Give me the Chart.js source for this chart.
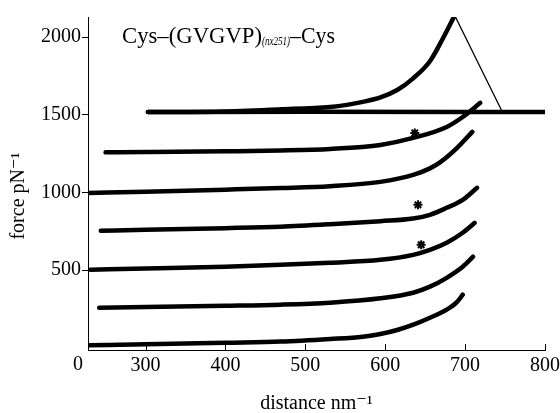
<!DOCTYPE html>
<html>
<head>
<meta charset="utf-8">
<script src="https://cdn.jsdelivr.net/npm/chart.js@4"></script>
<style>
  html, body { margin: 0; padding: 0; background: #fff; }
  #wrap { width: 560px; height: 413px; }
</style>
</head>
<body>
<div id="wrap"><canvas id="forceChart"></canvas></div>
<script>
// tick labels
const xTicks = [300, 400, 500, 600, 700, 800];
const yTicks = [500, 1000, 1500, 2000];

// force-extension traces, [distance nm, force pN]
const trace0 = [[229, 15], [300, 22], [400, 32], [469, 39], [531, 56], [572, 71], [594, 88], [615, 114], [636, 150], [656, 193], [677, 245], [690, 295], [697, 341]];
const trace1 = [[242, 257], [300, 262], [400, 270], [469, 277], [531, 290], [594, 318], [635, 354], [656, 393], [677, 450], [697, 521], [710, 586]];
const trace2 = [[231, 502], [300, 510], [400, 522], [469, 534], [531, 547], [594, 566], [635, 598], [656, 630], [677, 676], [697, 740], [712, 804]];
const trace3 = [[244, 753], [300, 760], [400, 770], [469, 779], [531, 795], [594, 815], [635, 832], [656, 856], [677, 901], [697, 952], [715, 1030]];
const trace4 = [[229, 997], [300, 1005], [400, 1018], [469, 1028], [531, 1040], [594, 1068], [635, 1113], [656, 1155], [669, 1195], [690, 1287], [709, 1390]];
const trace5 = [[250, 1258], [300, 1260], [400, 1265], [469, 1270], [531, 1280], [594, 1306], [635, 1351], [677, 1422], [697, 1486], [719, 1577]];
const approach = [[303, 1518], [500, 1520], [800, 1518]];
const retract = [[303, 1518], [400, 1522], [469, 1535], [531, 1551], [552, 1564], [572, 1583], [594, 1612], [615, 1660], [635, 1735], [656, 1845], [672, 1990], [687, 2140]];
const rupture = [[687, 2140], [746, 1525]];
const stars = [[637, 1383], [641, 920], [645, 663]];

const serif = "'Liberation Serif', 'DejaVu Serif', serif";
Chart.defaults.font.family = serif;
Chart.defaults.color = '#000';

function lineSet(points, width) {
    return {
        data: points.map(p => ({ x: p[0], y: p[1] })),
        showLine: true,
        borderColor: '#000',
        backgroundColor: '#000',
        borderWidth: width,
        pointRadius: 0,
        cubicInterpolationMode: 'monotone',
        borderCapStyle: 'round',
        fill: false
    };
}

// title, y label, the lone "0" at the corner and inward x ticks
const extrasPlugin = {
    id: 'extras',
    afterDraw(chart) {
        const ctx = chart.ctx;
        const x = chart.scales.x;
        const area = chart.chartArea;
        ctx.save();
        ctx.strokeStyle = '#000';
        ctx.lineWidth = 1;
        xTicks.forEach(v => {
            const px = Math.round(x.getPixelForValue(v)) + 0.5;
            ctx.beginPath();
            ctx.moveTo(px, area.bottom);
            ctx.lineTo(px, area.bottom - 6);
            ctx.stroke();
        });

        ctx.fillStyle = '#000';
        ctx.textBaseline = 'middle';
        ctx.textAlign = 'center';
        ctx.font = '20px ' + serif;
        ctx.fillText('0', area.left - 10, 365);

        // y axis title
        ctx.save();
        ctx.translate(19, 196);
        ctx.rotate(-Math.PI / 2);
        ctx.fillText('force pN\u207B\u00B9', 0, 0);
        ctx.restore();

        // plot title with its subscript
        ctx.textAlign = 'left';
        ctx.textBaseline = 'alphabetic';
        let tx = 122;
        ctx.font = '23px ' + serif;
        ctx.fillText('Cys\u2013(GVGVP)', tx, 43, 140);
        tx += Math.min(140, ctx.measureText('Cys\u2013(GVGVP)').width);
        ctx.font = 'italic 12px ' + serif;
        ctx.fillText('(nx251)', tx, 45, 28);
        tx += Math.min(28, ctx.measureText('(nx251)').width);
        ctx.font = '23px ' + serif;
        ctx.fillText('\u2013Cys', tx, 43, 45);
        ctx.restore();
    }
};

const forceChart = new Chart(document.getElementById('forceChart').getContext('2d'), {
    type: 'scatter',
    data: {
        datasets: [
            lineSet(trace0, 4.5),
            lineSet(trace1, 4.5),
            lineSet(trace2, 4.5),
            lineSet(trace3, 4.5),
            lineSet(trace4, 4.5),
            lineSet(trace5, 4.5),
            lineSet(approach, 4.5),
            lineSet(retract, 4.5),
            lineSet(rupture, 1.3),
            {
                data: stars.map(p => ({ x: p[0], y: p[1] })),
                pointStyle: 'star',
                pointRadius: 4.5,
                borderWidth: 2,
                borderColor: '#000',
                backgroundColor: '#000'
            }
        ]
    },
    options: {
        responsive: true,
        maintainAspectRatio: false,
        animation: false,
        events: [],
        layout: { padding: { left: 0, right: 15, top: 17, bottom: 0 } },
        plugins: {
            legend: { display: false },
            tooltip: { enabled: false }
        },
        scales: {
            x: {
                type: 'linear',
                min: 228,
                max: 800,
                afterBuildTicks: scale => { scale.ticks = xTicks.map(v => ({ value: v })); },
                afterFit: scale => {
                    scale.height = 63;
                    scale.paddingLeft = 0;
                    scale.paddingRight = 0;
                },
                grid: { display: false, drawTicks: false },
                border: { display: true, color: '#000', width: 1 },
                ticks: {
                    font: { size: 20 },
                    padding: 4,
                    maxRotation: 0,
                    color: '#000',
                    callback: v => String(v)
                },
                title: {
                    display: true,
                    text: 'distance nm\u207B\u00B9',
                    font: { size: 20 },
                    color: '#000',
                    padding: { top: 0, bottom: -3 }
                }
            },
            y: {
                type: 'linear',
                min: -15,
                max: 2130,
                afterBuildTicks: scale => { scale.ticks = yTicks.map(v => ({ value: v })); },
                afterFit: scale => {
                    scale.width = 88;
                    scale.paddingTop = 0;
                    scale.paddingBottom = 0;
                },
                grid: { drawOnChartArea: false, drawTicks: true, tickLength: 6, color: '#000' },
                border: { display: true, color: '#000', width: 1 },
                ticks: { font: { size: 20 }, padding: 1, color: '#000', callback: v => String(v) }
            }
        }
    },
    plugins: [extrasPlugin]
});
</script>
</body>
</html>
